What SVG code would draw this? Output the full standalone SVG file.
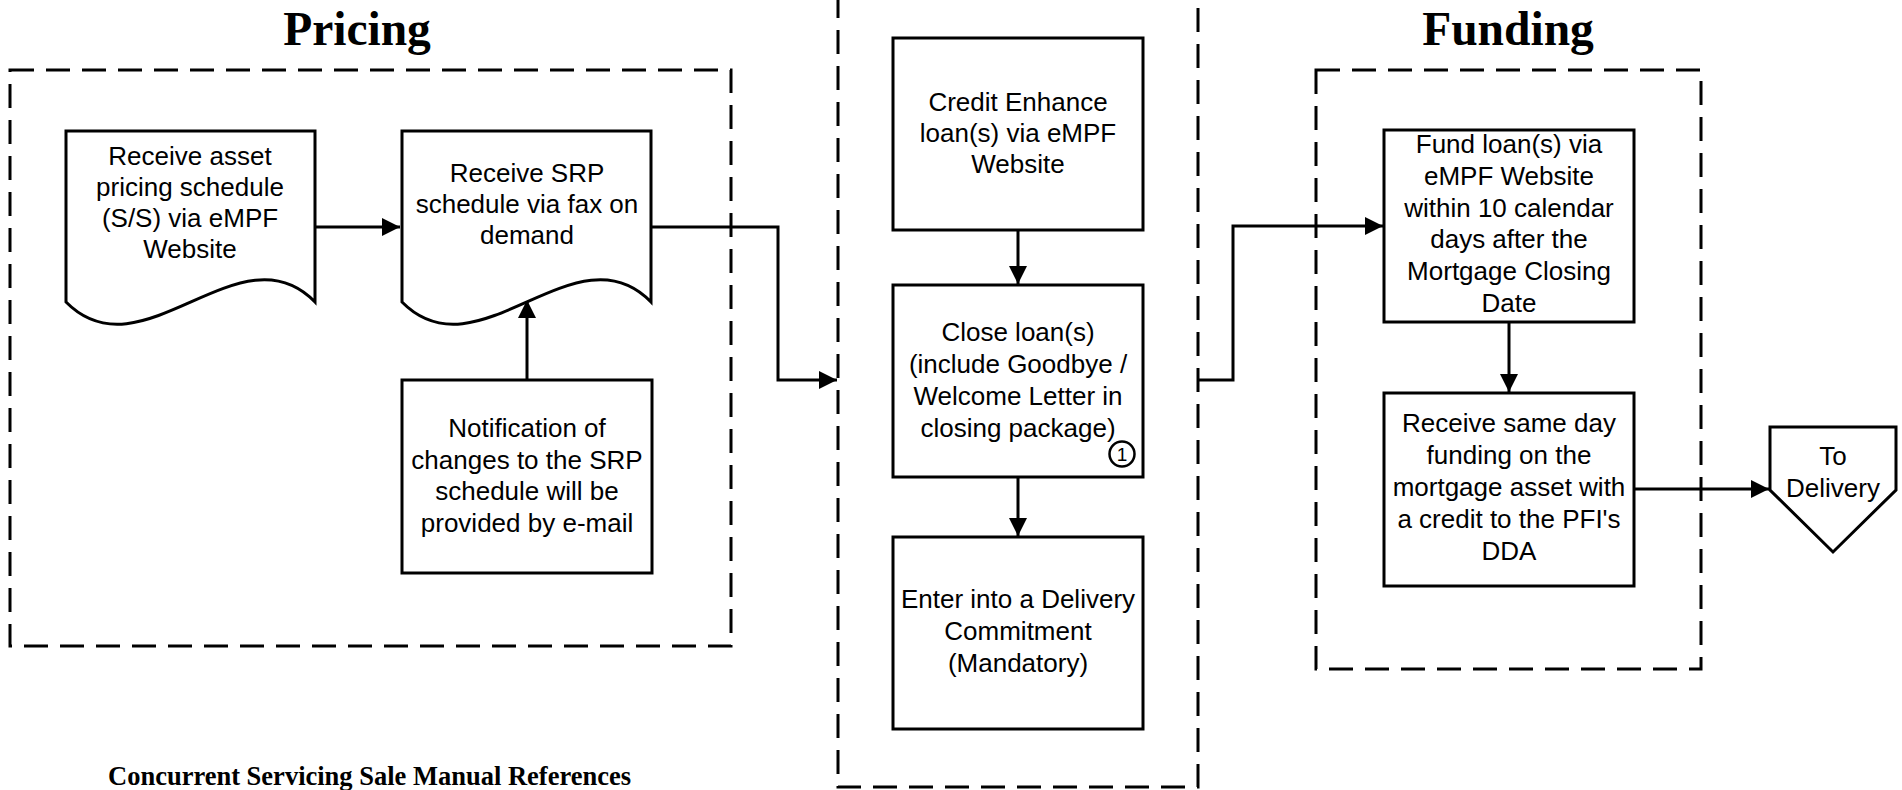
<svg xmlns="http://www.w3.org/2000/svg" width="1902" height="790" viewBox="0 0 1902 790">
<style>
.box{fill:#fff;stroke:#000;stroke-width:3}
.dash{fill:none;stroke:#000;stroke-width:3;stroke-dasharray:24 12}
.t{font-family:"Liberation Sans",Arial,sans-serif;font-size:26px;fill:#000;text-anchor:middle}
.title{font-family:"Liberation Serif","Times New Roman",serif;font-weight:bold;font-size:47.5px;fill:#000;text-anchor:middle}
.ref{font-family:"Liberation Serif","Times New Roman",serif;font-weight:bold;font-size:26.5px;fill:#000}
.c{fill:none;stroke:#000;stroke-width:3}
</style>
<defs>
<marker id="ah" markerUnits="userSpaceOnUse" viewBox="0 0 18 18" refX="18" refY="9" markerWidth="18" markerHeight="18" orient="auto">
<path d="M0,0 L18,9 L0,18 Z" fill="#000"/>
</marker>
</defs>
<rect width="1902" height="790" fill="#fff"/>

<g id="groups">
<rect class="dash" x="10" y="70" width="721" height="576"/>
<path class="dash" d="M838,-6 L838,787 L1198,787 L1198,-6"/>
<rect class="dash" x="1316" y="70" width="385" height="599"/>
<text class="title" x="357" y="45">Pricing</text>
<text class="title" x="1508" y="45">Funding</text>
</g>

<g id="connectors">
<path class="c" d="M315,227 L400,227" marker-end="url(#ah)"/>
<path class="c" d="M651,227 L778,227 L778,380 L837,380" marker-end="url(#ah)"/>
<path class="c" d="M527,380 L527,300" marker-end="url(#ah)"/>
<path class="c" d="M1018,230 L1018,284" marker-end="url(#ah)"/>
<path class="c" d="M1018,477 L1018,536" marker-end="url(#ah)"/>
<path class="c" d="M1198,380 L1233,380 L1233,226 L1383,226" marker-end="url(#ah)"/>
<path class="c" d="M1509,322 L1509,392" marker-end="url(#ah)"/>
<path class="c" d="M1634,489 L1769,489" marker-end="url(#ah)"/>
</g>

<g id="n-asset-schedule">
<path class="box" d="M66,131 L315,131 L315,302 C240,225 142,379 66,302 Z"/>
<text class="t" x="190" y="165">Receive asset</text>
<text class="t" x="190" y="196">pricing schedule</text>
<text class="t" x="190" y="227">(S/S) via eMPF</text>
<text class="t" x="190" y="258">Website</text>
</g>

<g id="n-srp-schedule">
<path class="box" d="M402,131 L651,131 L651,302 C576,225 478,379 402,302 Z"/>
<text class="t" x="527" y="182">Receive SRP</text>
<text class="t" x="527" y="213">schedule via fax on</text>
<text class="t" x="527" y="244">demand</text>
</g>

<g id="n-notification">
<rect class="box" x="402" y="380" width="250" height="193"/>
<text class="t" x="527" y="437">Notification of</text>
<text class="t" x="527" y="468.5">changes to the SRP</text>
<text class="t" x="527" y="500">schedule will be</text>
<text class="t" x="527" y="531.5">provided by e-mail</text>
</g>

<g id="n-credit-enhance">
<rect class="box" x="893" y="38" width="250" height="192"/>
<text class="t" x="1018" y="111">Credit Enhance</text>
<text class="t" x="1018" y="142">loan(s) via eMPF</text>
<text class="t" x="1018" y="173">Website</text>
</g>

<g id="n-close-loan">
<rect class="box" x="893" y="285" width="250" height="192"/>
<text class="t" x="1018" y="341">Close loan(s)</text>
<text class="t" x="1018" y="373">(include Goodbye /</text>
<text class="t" x="1018" y="405">Welcome Letter in</text>
<text class="t" x="1018" y="437">closing package)</text>
<circle cx="1122" cy="454" r="12.5" fill="none" stroke="#000" stroke-width="2.5"/>
<text x="1122" y="461" style="font-family:'Liberation Sans',Arial,sans-serif;font-size:19px;text-anchor:middle">1</text>
</g>

<g id="n-delivery-commitment">
<rect class="box" x="893" y="537" width="250" height="192"/>
<text class="t" x="1018" y="608">Enter into a Delivery</text>
<text class="t" x="1018" y="640">Commitment</text>
<text class="t" x="1018" y="672">(Mandatory)</text>
</g>

<g id="n-fund-loan">
<rect class="box" x="1384" y="130" width="250" height="192"/>
<text class="t" x="1509" y="153">Fund loan(s) via</text>
<text class="t" x="1509" y="185">eMPF Website</text>
<text class="t" x="1509" y="217">within 10 calendar</text>
<text class="t" x="1509" y="248">days after the</text>
<text class="t" x="1509" y="280">Mortgage Closing</text>
<text class="t" x="1509" y="312">Date</text>
</g>

<g id="n-receive-funding">
<rect class="box" x="1384" y="393" width="250" height="193"/>
<text class="t" x="1509" y="432">Receive same day</text>
<text class="t" x="1509" y="464">funding on the</text>
<text class="t" x="1509" y="496">mortgage asset with</text>
<text class="t" x="1509" y="528">a credit to the PFI's</text>
<text class="t" x="1509" y="560">DDA</text>
</g>

<g id="n-to-delivery">
<path class="box" d="M1770,427 L1896,427 L1896,490 L1833,552 L1770,490 Z"/>
<text class="t" x="1833" y="465">To</text>
<text class="t" x="1833" y="497">Delivery</text>
</g>

<text class="ref" x="108" y="785">Concurrent Servicing Sale Manual References</text>
</svg>
